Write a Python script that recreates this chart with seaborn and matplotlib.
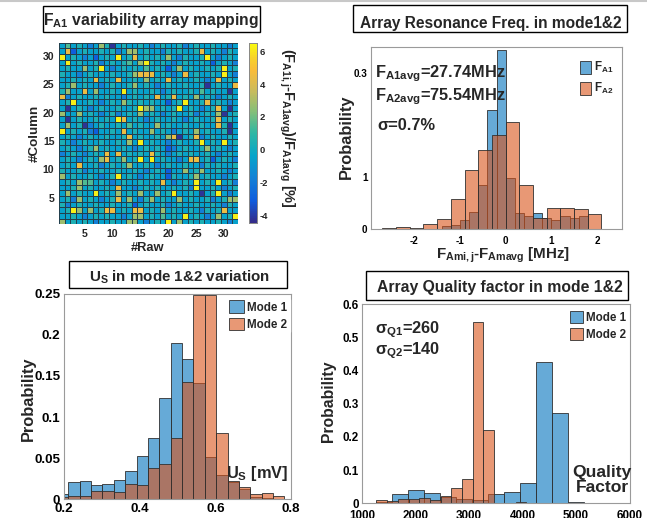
import matplotlib

matplotlib.use("Agg")
import matplotlib.pyplot as plt
import numpy as np
import seaborn as sns
from matplotlib.colors import LinearSegmentedColormap
from matplotlib.lines import Line2D
from matplotlib.patches import Rectangle

# ---------------- data ----------------
# panel 1: F_A1 deviation map, one letter per cell (colour level),
# rows listed from #Column 32 (top) down to #Column 1, cells from #Raw 1 to 32
LEVELS = {"a": -4.2, "b": -3.0, "c": -1.8, "d": -0.5, "e": 0.4,
          "f": 1.5, "g": 2.8, "h": 4.5, "i": 6.2}
MAP_ROWS = [
    "dfdedcdg eadedded cdeddecd eddeddcd",  # 32
    "dhbdedde decdggde ddcededd ehdedced",  # 31
    "idedcdbd edidehde dedgdced deidcded",  # 30
    "dideddec dedefdgi ededcded dedbdedc",  # 29
    "deddgdei dcdededf dedbdgde ddedeide",  # 28
    "eddcdedd deddeghh hdedcdhd eddedidc",  # 27
    "ddededhd edhddedg dedhdedd edcdhded",  # 26
    "degdeddc deddegde dcdedded deadeddh",  # 25
    "egddhdgd dedidedd edcdedde dfdeddad",  # 24
    "hcdedded eddcdede dhdehded gdedcded",  # 23
    "deiddedc dedgeded eddbdeid dehdedcd",  # 22
    "dadedcde ddeddeig gdedeide dcdehdad",  # 21
    "gddgdedc decdedgd edcdedde cdedgade",  # 20
    "dadedded edihdedc deddedcd eddehded",  # 19
    "dgdeacde ddedfded dgdedded deddhead",  # 18
    "idedecbd dedhdedd gdedcded gdeddead",  # 17
    "dedcdedd eddehded dedghade hcdedded",  # 16
    "edcdedde ddedgdid eddcdedd eidedide",  # 15
    "dedcdegd eddedcde dedbcded degdedcd",  # 14
    "cdedcded hdhdeded hedcdede ddedcded",  # 13
    "dedcdedg hdegdeid ideddcdh hdebdedc",  # 12
    "dedhddec dedegdde dcdedded dcededde",  # 11
    "eddecdde ddeddedc dedbddgd egddedcd",  # 10
    "gdeddedc deidedcd eddbedde gdeddcde",  # 9
    "dedgffde dcdedded edhdcded idedidec",  # 8
    "ddegdedd edhddcde deddedec iddedcde",  # 7
    "dgdeddid edgdedgd dgdeidde dadeidcd",  # 6
    "decgdedc dehdgdce gdeddgde ddecdegg",  # 5
    "ecdedded deddebde ddecdedd eddedced",  # 4
    "deigdgde hhdedhhd edgdedde dcedehdd",  # 3
    "ddedcded eddcdggd edfdedid edcdgdei",  # 2
    "gdededcd deddggdc dedidgde deddedcd",  # 1
]
MAP_TICKS = [5, 10, 15, 20, 25, 30]
CBAR_TICKS = [-4, -2, 0, 2, 4, 6]

# panel 2: resonance frequency deviation histograms [MHz]
FA1_EDGES = [-1.4, -1.2, -1.0, -0.8, -0.6, -0.4, -0.2, 0.0, 0.2,
             0.4, 0.6, 0.8, 1.0, 1.2, 1.4, 1.6, 1.8]
FA1_PROB = [0.005, 0.007, 0.018, 0.032, 0.084, 0.229, 0.343, 0.097,
            0.031, 0.025, 0.031, 0.021, 0.018, 0.025, 0.021, 0.024]
FA2_EDGES = [-2.7, -2.4, -2.1, -1.8, -1.5, -1.2, -0.9, -0.6, -0.3,
             0.0, 0.3, 0.6, 0.9, 1.2, 1.5, 1.8, 2.1]
FA2_PROB = [0.001, 0.004, 0.001, 0.009, 0.020, 0.058, 0.114, 0.151,
            0.181, 0.206, 0.084, 0.022, 0.040, 0.041, 0.039, 0.029]

# panel 3: U_S histograms [mV]
US_EDGES = [0.1805, 0.2106, 0.2407, 0.2708, 0.3009, 0.3310, 0.3611,
            0.3912, 0.4213, 0.4514, 0.4815, 0.5116, 0.5417, 0.5718,
            0.6019, 0.6320, 0.6621, 0.6922, 0.7223, 0.7524, 0.7825]
US_MODE1 = [0.006, 0.021, 0.022, 0.017, 0.018, 0.023, 0.035, 0.053, 0.075,
            0.123, 0.190, 0.171, 0.141, 0.052, 0.030, 0.021, 0.013, 0.003,
            0.001, 0.000]
US_MODE2 = [0.003, 0.004, 0.004, 0.010, 0.010, 0.009, 0.018, 0.017, 0.038,
            0.043, 0.075, 0.143, 0.249, 0.248, 0.081, 0.022, 0.015, 0.007,
            0.008, 0.004]

# panel 4: quality factor histograms
Q1_EDGES = [1254, 1554, 1854, 2154, 2454, 2754, 3054, 3354, 3654, 3954,
            4254, 4554, 4854, 5154, 5454, 5754]
Q1_PROB = [0.005, 0.029, 0.041, 0.032, 0.018, 0.012, 0.010, 0.027, 0.033,
           0.062, 0.425, 0.273, 0.005, 0.002, 0.001]
Q2_EDGES = [1270, 1470, 1670, 1870, 2070, 2270, 2470, 2670, 2870, 3070,
            3270, 3470, 3670, 3870, 4070, 4270, 4470, 4670, 4870, 5070,
            5270, 5470, 5670, 5870]
Q2_PROB = [0.009, 0.006, 0.014, 0.012, 0.017, 0.010, 0.023, 0.047, 0.074,
           0.548, 0.221, 0.0, 0.0, 0.003, 0.0, 0.0, 0.0, 0.0, 0.0, 0.001,
           0.0, 0.0, 0.001]

BLUE = "#0072BD"
ORANGE = "#D95319"
PARULA = LinearSegmentedColormap.from_list("parula", [
    (0.0, "#352a87"), (0.125, "#0f5cdd"), (0.25, "#1481d6"),
    (0.375, "#06a4ca"), (0.5, "#2eb7a4"), (0.625, "#87bf77"),
    (0.75, "#d1bb59"), (0.85, "#f9bc3a"), (0.92, "#f7d22b"),
    (1.0, "#f9fb0e"),
])

W, H = 647, 518
S = 0.84  # Liberation Sans is wider than the condensed face of the original

sns.set_theme(style="white")
plt.rcParams["font.family"] = ["Liberation Sans", "DejaVu Sans"]
plt.rcParams["font.weight"] = "bold"
plt.rcParams["axes.labelweight"] = "bold"
plt.rcParams["mathtext.fontset"] = "custom"
plt.rcParams["mathtext.rm"] = "Liberation Sans:bold"
plt.rcParams["mathtext.it"] = "Liberation Sans:bold"
plt.rcParams["mathtext.bf"] = "Liberation Sans:bold"
plt.rcParams["mathtext.default"] = "rm"


def box(x0, y0, x1, y1):
    # pixel box (top-left origin) -> figure fraction rect
    return [x0 / W, 1 - y1 / H, (x1 - x0) / W, (y1 - y0) / H]


def title_box(fig, x0, y0, x1, y1, text, xc, base, size):
    rect = Rectangle((x0 / W, 1 - y1 / H), (x1 - x0) / W, (y1 - y0) / H,
                     transform=fig.transFigure, facecolor="white",
                     edgecolor="black", linewidth=1.0)
    fig.add_artist(rect)
    fig.text(xc / W, 1 - base / H, text, ha="center", va="baseline",
             fontsize=size * S, fontweight="bold")


def hist_pair(ax, e1, p1, e2, p2, lab1, lab2):
    for edges, probs, color, lab in [(e1, p1, BLUE, lab1), (e2, p2, ORANGE, lab2)]:
        centers = [(edges[i] + edges[i + 1]) / 2 for i in range(len(probs))]
        sns.histplot(x=centers, weights=probs, bins=edges, ax=ax, color=color,
                     alpha=0.6, edgecolor="#303030", linewidth=0.6, label=lab)


def style_axes(ax, labelsize, pad):
    for sp in ax.spines.values():
        sp.set_visible(True)
        sp.set_color("#9a9a9a")
        sp.set_linewidth(0.8)
    ax.tick_params(direction="in", length=3, width=0.6, color="#808080",
                   labelsize=labelsize * S, pad=pad, labelcolor="black")
    for lab in ax.get_xticklabels() + ax.get_yticklabels():
        lab.set_fontweight("bold")


fig = plt.figure(figsize=(W / 100, H / 100), dpi=100)
fig.add_artist(Line2D([0, 1], [1 - 1 / H, 1 - 1 / H], transform=fig.transFigure,
                      color="#c8c8c8", linewidth=1.5))

# ---------------- panel 1: heatmap ----------------
grid = np.array([[LEVELS[ch] for ch in row.replace(" ", "")] for row in MAP_ROWS])
ax1 = fig.add_axes(box(59.3, 42.7, 237.7, 224.3))
cax = fig.add_axes(box(249.3, 43.3, 257.3, 223.3))
sns.heatmap(grid, ax=ax1, cmap=PARULA, vmin=-4.5, vmax=6.5, cbar_ax=cax,
            linewidths=0.5, linecolor="#22404e")
n = len(MAP_ROWS)
ax1.set_xticks([c - 0.5 for c in MAP_TICKS])
ax1.set_xticklabels([str(c) for c in MAP_TICKS], rotation=0)
ax1.set_yticks([n - r + 0.5 for r in MAP_TICKS])
ax1.set_yticklabels([str(r) for r in MAP_TICKS], rotation=0)
ax1.tick_params(length=0, labelsize=9 * S, pad=3.5)
for lab in ax1.get_xticklabels() + ax1.get_yticklabels():
    lab.set_fontweight("bold")
ax1.set_xlabel("#Raw", fontsize=11 * S, va="center")
ax1.xaxis.set_label_coords(0.497, -0.13)
ax1.set_ylabel("#Column", fontsize=11.5 * S, va="center")
ax1.yaxis.set_label_coords(-0.14, 0.5)
cax.set_yticks(CBAR_TICKS)
cax.set_yticklabels([str(t) for t in CBAR_TICKS])
cax.tick_params(labelsize=8 * S, length=2, direction="in", pad=2)
for lab in cax.get_yticklabels():
    lab.set_fontweight("bold")
for sp in cax.spines.values():
    sp.set_visible(True)
    sp.set_color("#888888")
    sp.set_linewidth(0.6)
fig.text(287 / W, 1 - 128 / H, "(F$_{A1i,j}$-F$_{A1avg}$)/F$_{A1avg}$ [%]",
         rotation=270, ha="center", va="center", fontsize=12.5 * S,
         fontweight="bold")
title_box(fig, 43, 6, 260, 32, "F$_{A1}$ variability array mapping", 151, 25, 13.5)

# ---------------- panel 2: resonance frequency ----------------
ax2 = fig.add_axes(box(371, 46.7, 622, 229))
hist_pair(ax2, FA1_EDGES, FA1_PROB, FA2_EDGES, FA2_PROB, "F$_{A1}$", "F$_{A2}$")
ax2.set_xlim(-2.95, 2.55)
ax2.set_ylim(0, 0.35)
ax2.set_xticks([-2, -1, 0, 1, 2])
ax2.set_xticklabels(["-2", "-1", "0", "1", "2"])
ax2.set_yticks([0, 0.1, 0.3])
ax2.set_yticklabels(["0", "1", "0.3"])
style_axes(ax2, 8.5, 2.5)
ax2.tick_params(axis="x", pad=5)
ax2.set_ylabel("Probability", fontsize=14 * S, va="center")
ax2.yaxis.set_label_coords(-0.097, 0.506)
ax2.set_xlabel("F$_{Ami,j}$-F$_{Amavg}$ [MHz]", fontsize=13 * S, va="center")
ax2.xaxis.set_label_coords(0.526, -0.145)
ax2.legend(loc="upper right", bbox_to_anchor=(1.0, 0.97), frameon=False,
           fontsize=10 * S, handlelength=0.9, handleheight=1.3, labelspacing=0.5,
           handletextpad=0.3, borderpad=0.2)
ax2.text(0.016, 0.834, "F$_{A1avg}$=27.74MHz", transform=ax2.transAxes,
         fontsize=14 * S, fontweight="bold", va="baseline")
ax2.text(0.016, 0.708, "F$_{A2avg}$=75.54MHz", transform=ax2.transAxes,
         fontsize=14 * S, fontweight="bold", va="baseline")
ax2.text(0.024, 0.543, "σ=0.7%", transform=ax2.transAxes,
         fontsize=14 * S, fontweight="bold", va="baseline")
title_box(fig, 353, 5, 627, 32, "Array Resonance Freq. in mode1&2", 491, 28.3, 13.3)

# ---------------- panel 3: U_S ----------------
ax3 = fig.add_axes(box(64.3, 293.7, 291, 499.3))
hist_pair(ax3, US_EDGES, US_MODE1, US_EDGES, US_MODE2, "Mode 1", "Mode 2")
ax3.set_xlim(0.2, 0.8)
ax3.set_ylim(0, 0.25)
ax3.set_xticks([0.2, 0.4, 0.6, 0.8])
ax3.set_xticklabels(["0.2", "0.4", "0.6", "0.8"])
ax3.set_yticks([0, 0.05, 0.1, 0.15, 0.2, 0.25])
ax3.set_yticklabels(["0", "0.05", "0.1", "0.15", "0.2", "0.25"])
style_axes(ax3, 11.5, 3)
ax3.set_ylabel("Probability", fontsize=14 * S, va="center")
ax3.yaxis.set_label_coords(-0.159, 0.491)
ax3.set_xlabel("")
ax3.legend(loc="upper right", bbox_to_anchor=(1.0, 0.985), frameon=True,
           facecolor="white", edgecolor="white", framealpha=1, fontsize=10 * S,
           handlelength=1.3, handleheight=1.3, labelspacing=0.35,
           handletextpad=0.25, borderpad=0.2, borderaxespad=0.1)
ax3.text(0.987, 0.105, "U$_S$ [mV]", transform=ax3.transAxes, ha="right",
         va="baseline", fontsize=14 * S, fontweight="bold")
title_box(fig, 69, 261, 287, 288, "U$_S$ in mode 1&2 variation", 179, 281.7, 13)

# ---------------- panel 4: quality factor ----------------
ax4 = fig.add_axes(box(362, 304.3, 629.5, 503.3))
hist_pair(ax4, Q1_EDGES, Q1_PROB, Q2_EDGES, Q2_PROB, "Mode 1", "Mode 2")
ax4.set_xlim(1000, 6000)
ax4.set_ylim(0, 0.6)
ax4.set_xticks([1000, 2000, 3000, 4000, 5000, 6000])
ax4.set_xticklabels(["1000", "2000", "3000", "4000", "5000", "6000"])
ax4.set_yticks([0, 0.1, 0.2, 0.3, 0.4, 0.5, 0.6])
ax4.set_yticklabels(["0", "0.1", "0.2", "0.3", "0.4", "0.5", "0.6"])
style_axes(ax4, 10, 2.5)
ax4.tick_params(axis="x", pad=4.5)
ax4.set_ylabel("Probability", fontsize=13.5 * S, va="center")
ax4.yaxis.set_label_coords(-0.126, 0.511)
ax4.set_xlabel("")
ax4.legend(loc="upper right", bbox_to_anchor=(1.0, 0.985), frameon=True,
           facecolor="white", edgecolor="white", framealpha=1, fontsize=10 * S,
           handlelength=1.1, handleheight=1.2, labelspacing=0.35,
           handletextpad=0.25, borderpad=0.2, borderaxespad=0.1)
ax4.text(0.049, 0.856, "σ$_{Q1}$=260", transform=ax4.transAxes,
         fontsize=14 * S, fontweight="bold", va="baseline")
ax4.text(0.049, 0.750, "σ$_{Q2}$=140", transform=ax4.transAxes,
         fontsize=14 * S, fontweight="bold", va="baseline")
ax4.text(0.897, 0.117, "Quality\nFactor", transform=ax4.transAxes,
         ha="center", va="center", fontsize=15 * S, fontweight="bold",
         linespacing=1.05)
title_box(fig, 366, 271, 628, 300, "Array Quality factor in mode 1&2", 500, 292.3, 13.5)

fig.savefig("out.png", dpi=100)
